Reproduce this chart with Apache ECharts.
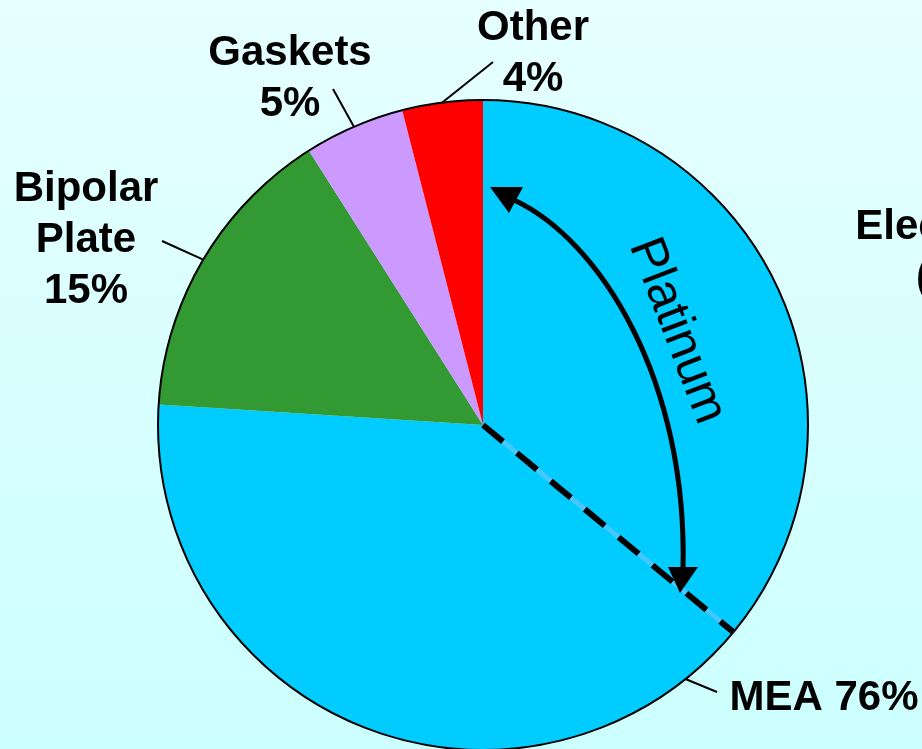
<!DOCTYPE html>
<html lang="en" style="height: 100%">
<head>
  <meta charset="utf-8">
</head>
<body style="height: 100%; margin: 0">
  <div id="container" style="width: 922px; height: 749px"></div>

  <script type="text/javascript" src="https://fastly.jsdelivr.net/npm/echarts@6.0.0/dist/echarts.min.js"></script>

  <script type="text/javascript">
    // chart data
    var categories = ['MEA', 'Bipolar Plate', 'Gaskets', 'Other'];
    var labelNames = ['MEA', 'Bipolar\nPlate', 'Gaskets', 'Other'];
    var shares = [76, 15, 5, 4];
    var sliceColors = ['#00CCFF', '#339933', '#CC99FF', '#FF0000'];

    // platinum share of the MEA wedge, measured from 12 o'clock (percent of whole pie)
    var platinumShare = 36;

    var font = 'Arial, "Liberation Sans", sans-serif';
    var center = [483, 425];
    var radius = 325;

    // label placement: text centre, end of leader line, optional start override
    var labelPlace = {
      'MEA': { x: 824, y: 698, end: [717, 692], start: [683, 678] },
      'Bipolar Plate': { x: 86, y: 240, end: [162, 241] },
      'Gaskets': { x: 290, y: 79, end: [333, 89] },
      'Other': { x: 533, y: 54, end: [493, 62] }
    };

    var dom = document.getElementById('container');
    var myChart = echarts.init(dom, null, { renderer: 'canvas' });

    // dashed divider inside the MEA wedge
    var ang = platinumShare / 100 * 2 * Math.PI;
    var edge = [center[0] + radius * Math.sin(ang), center[1] - radius * Math.cos(ang)];

    var option = {
      backgroundColor: {
        type: 'linear', x: 0, y: 0, x2: 0, y2: 1,
        colorStops: [{ offset: 0, color: '#E6FFFF' }, { offset: 1, color: '#CCFFFF' }]
      },
      animation: false,
      series: [
        {
          type: 'pie',
          center: center,
          radius: radius,
          startAngle: 90,
          clockwise: true,
          avoidLabelOverlap: false,
          emphasis: { disabled: true },
          itemStyle: { borderWidth: 0 },
          label: {
            show: true,
            position: 'outside',
            fontFamily: font,
            fontSize: 42,
            fontWeight: 'bold',
            lineHeight: 51,
            color: '#000',
            formatter: function (p) {
              return labelNames[p.dataIndex] + (p.dataIndex === 0 ? ' ' : '\n') + p.value + '%';
            }
          },
          labelLine: {
            show: true,
            length: 1,
            length2: 1,
            lineStyle: { color: '#000', width: 2 }
          },
          labelLayout: function (params) {
            var name = categories[params.dataIndex];
            var pl = labelPlace[name];
            var start = pl.start || (params.labelLinePoints ? params.labelLinePoints[0] : pl.end);
            return {
              x: pl.x,
              y: pl.y,
              align: 'center',
              verticalAlign: 'middle',
              labelLinePoints: [start, pl.end]
            };
          },
          data: categories.map(function (c, i) {
            return { name: c, value: shares[i], itemStyle: { color: sliceColors[i] } };
          })
        },
        {
          // outline of the whole pie
          type: 'pie',
          center: center,
          radius: radius,
          silent: true,
          label: { show: false },
          labelLine: { show: false },
          itemStyle: { color: 'rgba(0,0,0,0)', borderColor: '#000', borderWidth: 2 },
          data: [{ value: 1 }]
        }
      ],
      graphic: [
        {
          type: 'line',
          shape: { x1: center[0], y1: center[1], x2: edge[0], y2: edge[1] },
          style: { stroke: '#44C8FF', lineWidth: 5 },
          z: 10
        },
        {
          type: 'line',
          shape: { x1: center[0], y1: center[1], x2: edge[0], y2: edge[1] },
          style: { stroke: '#000', lineWidth: 6, lineDash: [26, 18] },
          z: 11
        },
        {
          type: 'bezierCurve',
          shape: { x1: 514, y1: 200, cpx1: 600, cpy1: 240, cpx2: 688, cpy2: 380, x2: 683, y2: 570 },
          style: { stroke: '#000', lineWidth: 5, fill: null },
          z: 12
        },
        {
          type: 'polygon',
          shape: { points: [[490, 187], [523, 187], [509, 213]] },
          style: { fill: '#000' },
          z: 12
        },
        {
          type: 'polygon',
          shape: { points: [[668, 567], [698, 567], [680, 593]] },
          style: { fill: '#000' },
          z: 12
        },
        {
          type: 'text',
          x: 677,
          y: 331,
          rotation: -69 * Math.PI / 180,
          style: {
            text: 'Platinum',
            x: 0,
            y: 0,
            align: 'center',
            verticalAlign: 'middle',
            fontFamily: font,
            fontSize: 50,
            fill: '#000'
          },
          z: 12
        },
        {
          type: 'text',
          x: 951,
          y: 202,
          style: {
            text: 'Electrode\n(Pt)',
            align: 'center',
            verticalAlign: 'top',
            fontFamily: font,
            fontSize: 42,
            fontWeight: 'bold',
            lineHeight: 51,
            fill: '#000'
          },
          z: 12
        }
      ]
    };

    if (option && typeof option === 'object') {
      myChart.setOption(option);
    }

    window.addEventListener('resize', myChart.resize);
  </script>
</body>
</html>
